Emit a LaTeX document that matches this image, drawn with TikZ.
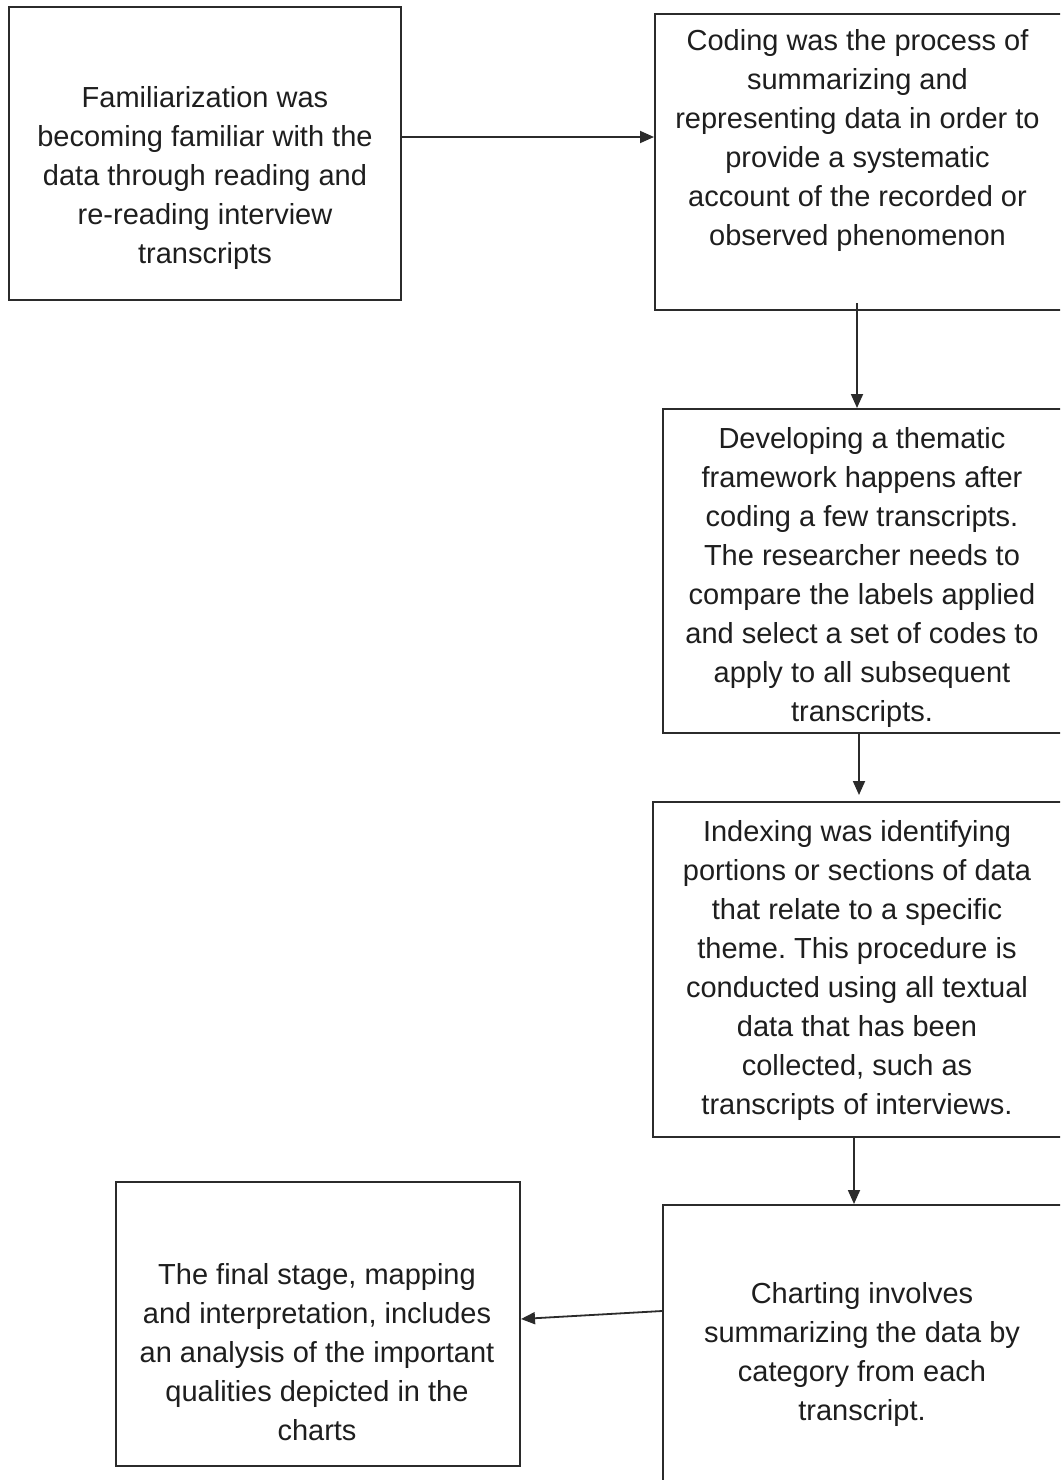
\documentclass[tikz,border=0pt]{standalone}
\usepackage{fontspec}
\setmainfont{Liberation Sans}
\frenchspacing
\usetikzlibrary{arrows.meta}
\definecolor{edge}{HTML}{2B2B2B}
\definecolor{ink}{HTML}{1E1E1E}
\tikzset{
  box/.style={draw=edge, line width=2pt, rectangle, inner sep=0pt, fill=white},
  txt/.style={align=center, text=ink, inner sep=0pt,
    font=\fontsize{29pt}{39pt}\selectfont},
  flow/.style={draw=edge, line width=1.8pt,
    -{Triangle[length=14pt,width=12pt]}}
}
\begin{document}
\begin{tikzpicture}[x=1pt, y=-1pt]
  \useasboundingbox (0,0) rectangle (1060,1480);
  \fill[white] (0,0) rectangle (1060,1480);
  \clip (0,0) rectangle (1060,1480);

  % stage boxes (the right-hand column runs off the page edge)
  \node[box, minimum width=392pt, minimum height=293pt] (A) at (205,153.5) {};
  \node[box, minimum width=445pt, minimum height=296pt] (B) at (877.5,162) {};
  \node[box, minimum width=437pt, minimum height=324pt] (C) at (881.5,571) {};
  \node[box, minimum width=447pt, minimum height=335pt] (D) at (876.5,969.5) {};
  \node[box, minimum width=437pt, minimum height=315pt] (E) at (881.5,1362.5) {};
  \node[box, minimum width=404pt, minimum height=284pt] (F) at (318,1324) {};

  % stage descriptions
  \node[txt] (tA) at (205,178) {Familiarization was\\becoming familiar with the\\data through reading and\\re-reading interview\\transcripts};
  \node[txt] (tB) at (857.5,140.5) {Coding was the process of\\summarizing and\\representing data in order to\\provide a systematic\\account of the recorded or\\observed phenomenon};
  \node[txt] (tC) at (862,577) {Developing a thematic\\framework happens after\\coding a few transcripts.\\The researcher needs to\\compare the labels applied\\and select a set of codes to\\apply to all subsequent\\transcripts.};
  \node[txt] (tD) at (857,970.5) {Indexing was identifying\\portions or sections of data\\that relate to a specific\\theme. This procedure is\\conducted using all textual\\data that has been\\collected, such as\\transcripts of interviews.};
  \node[txt] (tE) at (862,1354.5) {Charting involves\\summarizing the data by\\category from each\\transcript.};
  \node[txt] (tF) at (317,1352.5) {The final stage, mapping\\and interpretation, includes\\an analysis of the important\\qualities depicted in the\\charts};

  % connectors
  \draw[flow] ([yshift=16.5pt]A.east) -- ([yshift=25pt]B.west);
  \draw[flow, shorten <=-8pt] ([xshift=203pt]B.south west) -- ([xshift=195pt]C.north west);
  \draw[flow, shorten >=6pt] ([xshift=197pt]C.south west) -- ([xshift=207pt]D.north west);
  \draw[flow] ([xshift=202pt]D.south west) -- ([xshift=192pt]E.north west);
  \draw[flow] ([yshift=51.5pt]E.west) -- ([yshift=5pt]F.east);
\end{tikzpicture}
\end{document}
